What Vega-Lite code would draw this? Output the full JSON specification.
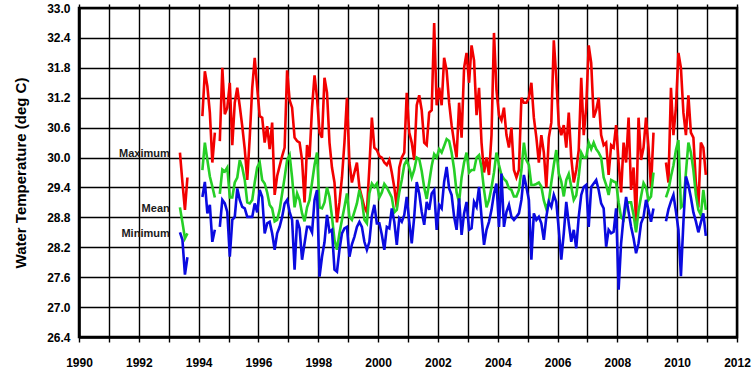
{
  "$schema": "https://vega.github.io/schema/vega-lite/v6.json",
  "width": 658,
  "height": 329,
  "autosize": {"type": "none"},
  "padding": {"left": 79, "top": 8, "right": 18, "bottom": 41},
  "background": "white",
  "config": {
    "view": {"stroke": "#000", "strokeWidth": 2.5},
    "axis": {
      "labelFont": "Liberation Sans", "labelFontWeight": "bold", "labelFontSize": 12, "labelColor": "#000",
      "titleFont": "Liberation Sans", "titleFontWeight": "bold", "titleColor": "#000",
      "gridColor": "#000", "gridOpacity": 1, "gridWidth": 1.4,
      "domainColor": "#000", "domainWidth": 2.5, "tickColor": "#000", "tickWidth": 1.4
    }
  },
  "datasets": {
    "temps": [
      {"year":1993.375,"seg":"a","Maximum":30.1,"Mean":29.0,"Minimum":28.5},
      {"year":1993.458,"seg":"a","Maximum":29.5,"Mean":28.7,"Minimum":28.35},
      {"year":1993.542,"seg":"a","Maximum":28.95,"Mean":28.38,"Minimum":27.65},
      {"year":1993.625,"seg":"a","Maximum":29.6,"Mean":28.48,"Minimum":28.0},
      {"year":1994.125,"seg":"b","Maximum":30.83,"Mean":29.75,"Minimum":29.21},
      {"year":1994.208,"seg":"b","Maximum":31.73,"Mean":30.3,"Minimum":29.51},
      {"year":1994.292,"seg":"b","Maximum":31.43,"Mean":29.95,"Minimum":28.88},
      {"year":1994.375,"seg":"b","Maximum":30.9,"Mean":29.62,"Minimum":29.05},
      {"year":1994.458,"seg":"b","Maximum":29.9,"Mean":29.42,"Minimum":28.31},
      {"year":1994.542,"seg":"b","Maximum":30.5,"Mean":29.2,"Minimum":28.55},
      {"year":1994.708,"seg":"c","Maximum":30.33,"Mean":29.27,"Minimum":28.61},
      {"year":1994.792,"seg":"c","Maximum":31.8,"Mean":29.76,"Minimum":29.15},
      {"year":1994.875,"seg":"c","Maximum":30.87,"Mean":29.72,"Minimum":29.08},
      {"year":1994.958,"seg":"c","Maximum":31.0,"Mean":29.8,"Minimum":28.91},
      {"year":1995.042,"seg":"c","Maximum":31.5,"Mean":29.2,"Minimum":28.01},
      {"year":1995.125,"seg":"c","Maximum":30.25,"Mean":29.2,"Minimum":28.75},
      {"year":1995.208,"seg":"c","Maximum":31.1,"Mean":29.5,"Minimum":28.81},
      {"year":1995.292,"seg":"c","Maximum":31.4,"Mean":29.6,"Minimum":29.38},
      {"year":1995.375,"seg":"c","Maximum":31.03,"Mean":29.95,"Minimum":29.15},
      {"year":1995.458,"seg":"c","Maximum":30.63,"Mean":29.8,"Minimum":29.01},
      {"year":1995.542,"seg":"c","Maximum":30.17,"Mean":29.55,"Minimum":28.98},
      {"year":1995.625,"seg":"c","Maximum":29.55,"Mean":29.1,"Minimum":28.81},
      {"year":1995.708,"seg":"c","Maximum":30.4,"Mean":29.08,"Minimum":28.81},
      {"year":1995.792,"seg":"c","Maximum":31.4,"Mean":29.15,"Minimum":28.81},
      {"year":1995.875,"seg":"c","Maximum":32.0,"Mean":29.5,"Minimum":29.08},
      {"year":1995.958,"seg":"c","Maximum":31.4,"Mean":29.8,"Minimum":28.9},
      {"year":1996.042,"seg":"c","Maximum":30.83,"Mean":29.9,"Minimum":29.35},
      {"year":1996.125,"seg":"c","Maximum":30.8,"Mean":29.55,"Minimum":29.21},
      {"year":1996.208,"seg":"c","Maximum":30.3,"Mean":29.48,"Minimum":28.48},
      {"year":1996.292,"seg":"c","Maximum":30.63,"Mean":29.3,"Minimum":28.68},
      {"year":1996.375,"seg":"c","Maximum":30.17,"Mean":29.05,"Minimum":28.71},
      {"year":1996.458,"seg":"c","Maximum":30.7,"Mean":28.98,"Minimum":28.48},
      {"year":1996.542,"seg":"c","Maximum":29.25,"Mean":28.72,"Minimum":28.15},
      {"year":1996.625,"seg":"c","Maximum":29.63,"Mean":28.75,"Minimum":28.48},
      {"year":1996.708,"seg":"c","Maximum":29.83,"Mean":28.95,"Minimum":28.61},
      {"year":1996.792,"seg":"c","Maximum":30.03,"Mean":29.28,"Minimum":28.81},
      {"year":1996.875,"seg":"c","Maximum":30.2,"Mean":29.6,"Minimum":29.08},
      {"year":1996.958,"seg":"c","Maximum":31.75,"Mean":29.95,"Minimum":29.15},
      {"year":1997.042,"seg":"c","Maximum":31.15,"Mean":30.05,"Minimum":28.91},
      {"year":1997.125,"seg":"c","Maximum":31.0,"Mean":29.6,"Minimum":28.75},
      {"year":1997.208,"seg":"c","Maximum":30.4,"Mean":29.0,"Minimum":27.75},
      {"year":1997.292,"seg":"c","Maximum":30.33,"Mean":29.28,"Minimum":28.75},
      {"year":1997.375,"seg":"c","Maximum":30.3,"Mean":29.15,"Minimum":28.58},
      {"year":1997.458,"seg":"c","Maximum":29.95,"Mean":28.88,"Minimum":27.95},
      {"year":1997.542,"seg":"c","Maximum":29.1,"Mean":28.72,"Minimum":28.28},
      {"year":1997.625,"seg":"c","Maximum":30.25,"Mean":29.0,"Minimum":28.61},
      {"year":1997.708,"seg":"c","Maximum":30.0,"Mean":29.15,"Minimum":28.61},
      {"year":1997.792,"seg":"c","Maximum":31.0,"Mean":29.5,"Minimum":28.5},
      {"year":1997.875,"seg":"c","Maximum":31.65,"Mean":29.85,"Minimum":29.15},
      {"year":1997.958,"seg":"c","Maximum":31.2,"Mean":30.1,"Minimum":29.35},
      {"year":1998.042,"seg":"c","Maximum":30.5,"Mean":29.0,"Minimum":27.61},
      {"year":1998.125,"seg":"c","Maximum":30.4,"Mean":28.98,"Minimum":28.01},
      {"year":1998.208,"seg":"c","Maximum":31.6,"Mean":29.1,"Minimum":28.3},
      {"year":1998.292,"seg":"c","Maximum":31.3,"Mean":29.4,"Minimum":28.85},
      {"year":1998.375,"seg":"c","Maximum":30.3,"Mean":29.21,"Minimum":28.51},
      {"year":1998.458,"seg":"c","Maximum":29.8,"Mean":28.81,"Minimum":28.55},
      {"year":1998.542,"seg":"c","Maximum":29.5,"Mean":28.35,"Minimum":27.75},
      {"year":1998.625,"seg":"c","Maximum":28.7,"Mean":28.15,"Minimum":27.71},
      {"year":1998.708,"seg":"c","Maximum":29.1,"Mean":28.48,"Minimum":28.15},
      {"year":1998.792,"seg":"c","Maximum":29.6,"Mean":28.75,"Minimum":28.48},
      {"year":1998.875,"seg":"c","Maximum":30.3,"Mean":29.01,"Minimum":28.58},
      {"year":1998.958,"seg":"c","Maximum":31.2,"Mean":29.28,"Minimum":28.61},
      {"year":1999.042,"seg":"c","Maximum":29.9,"Mean":28.81,"Minimum":28.01},
      {"year":1999.125,"seg":"c","Maximum":29.5,"Mean":28.75,"Minimum":28.26},
      {"year":1999.208,"seg":"c","Maximum":29.7,"Mean":28.91,"Minimum":28.41},
      {"year":1999.292,"seg":"c","Maximum":29.9,"Mean":29.08,"Minimum":28.61},
      {"year":1999.375,"seg":"c","Maximum":29.4,"Mean":29.35,"Minimum":28.71},
      {"year":1999.458,"seg":"c","Maximum":29.2,"Mean":29.15,"Minimum":28.61},
      {"year":1999.542,"seg":"c","Maximum":29.0,"Mean":28.75,"Minimum":28.31},
      {"year":1999.625,"seg":"c","Maximum":28.9,"Mean":28.68,"Minimum":28.15},
      {"year":1999.708,"seg":"c","Maximum":29.8,"Mean":29.28,"Minimum":28.31},
      {"year":1999.792,"seg":"c","Maximum":30.8,"Mean":29.48,"Minimum":28.83},
      {"year":1999.875,"seg":"c","Maximum":30.2,"Mean":29.41,"Minimum":29.05},
      {"year":1999.958,"seg":"c","Maximum":30.15,"Mean":29.48,"Minimum":28.68},
      {"year":2000.042,"seg":"c","Maximum":30.03,"Mean":29.2,"Minimum":28.68},
      {"year":2000.125,"seg":"c","Maximum":30.0,"Mean":29.3,"Minimum":28.45},
      {"year":2000.208,"seg":"c","Maximum":29.9,"Mean":29.47,"Minimum":28.15},
      {"year":2000.292,"seg":"c","Maximum":29.85,"Mean":29.4,"Minimum":28.61},
      {"year":2000.375,"seg":"c","Maximum":29.95,"Mean":29.3,"Minimum":28.58},
      {"year":2000.458,"seg":"c","Maximum":29.7,"Mean":29.2,"Minimum":28.98},
      {"year":2000.542,"seg":"c","Maximum":29.4,"Mean":28.9,"Minimum":28.71},
      {"year":2000.625,"seg":"c","Maximum":29.0,"Mean":28.95,"Minimum":28.25},
      {"year":2000.708,"seg":"c","Maximum":29.8,"Mean":29.3,"Minimum":28.78},
      {"year":2000.792,"seg":"c","Maximum":30.0,"Mean":29.55,"Minimum":28.71},
      {"year":2000.875,"seg":"c","Maximum":30.1,"Mean":29.85,"Minimum":28.85},
      {"year":2000.958,"seg":"c","Maximum":31.3,"Mean":29.95,"Minimum":29.21},
      {"year":2001.042,"seg":"c","Maximum":30.5,"Mean":29.8,"Minimum":28.71},
      {"year":2001.125,"seg":"c","Maximum":30.3,"Mean":29.6,"Minimum":28.28},
      {"year":2001.208,"seg":"c","Maximum":29.95,"Mean":29.75,"Minimum":28.81},
      {"year":2001.292,"seg":"c","Maximum":31.05,"Mean":30.0,"Minimum":29.51},
      {"year":2001.375,"seg":"c","Maximum":31.25,"Mean":29.97,"Minimum":29.28},
      {"year":2001.458,"seg":"c","Maximum":30.95,"Mean":29.73,"Minimum":28.91},
      {"year":2001.542,"seg":"c","Maximum":30.3,"Mean":29.4,"Minimum":28.65},
      {"year":2001.625,"seg":"c","Maximum":30.25,"Mean":29.17,"Minimum":29.11},
      {"year":2001.708,"seg":"c","Maximum":30.9,"Mean":29.5,"Minimum":28.95},
      {"year":2001.792,"seg":"c","Maximum":30.95,"Mean":29.83,"Minimum":29.28},
      {"year":2001.875,"seg":"c","Maximum":32.7,"Mean":30.07,"Minimum":29.35},
      {"year":2001.958,"seg":"c","Maximum":31.05,"Mean":30.0,"Minimum":28.55},
      {"year":2002.042,"seg":"c","Maximum":31.4,"Mean":30.17,"Minimum":29.05},
      {"year":2002.125,"seg":"c","Maximum":31.05,"Mean":30.1,"Minimum":28.98},
      {"year":2002.208,"seg":"c","Maximum":32.0,"Mean":30.23,"Minimum":29.51},
      {"year":2002.292,"seg":"c","Maximum":31.75,"Mean":30.37,"Minimum":29.81},
      {"year":2002.375,"seg":"c","Maximum":31.1,"Mean":30.33,"Minimum":29.38},
      {"year":2002.458,"seg":"c","Maximum":30.65,"Mean":30.1,"Minimum":29.25},
      {"year":2002.542,"seg":"c","Maximum":30.3,"Mean":29.77,"Minimum":28.81},
      {"year":2002.625,"seg":"c","Maximum":30.0,"Mean":29.3,"Minimum":28.55},
      {"year":2002.708,"seg":"c","Maximum":31.1,"Mean":29.1,"Minimum":29.18},
      {"year":2002.792,"seg":"c","Maximum":30.4,"Mean":29.6,"Minimum":28.45},
      {"year":2002.875,"seg":"c","Maximum":31.8,"Mean":29.9,"Minimum":28.88},
      {"year":2002.958,"seg":"c","Maximum":32.1,"Mean":30.1,"Minimum":29.11},
      {"year":2003.042,"seg":"c","Maximum":31.5,"Mean":29.7,"Minimum":28.55},
      {"year":2003.125,"seg":"c","Maximum":32.25,"Mean":29.75,"Minimum":28.58},
      {"year":2003.208,"seg":"c","Maximum":31.95,"Mean":29.75,"Minimum":29.11},
      {"year":2003.292,"seg":"c","Maximum":30.85,"Mean":30.0,"Minimum":29.01},
      {"year":2003.375,"seg":"c","Maximum":31.4,"Mean":30.05,"Minimum":29.41},
      {"year":2003.458,"seg":"c","Maximum":30.3,"Mean":29.8,"Minimum":28.81},
      {"year":2003.542,"seg":"c","Maximum":29.7,"Mean":29.35,"Minimum":28.25},
      {"year":2003.625,"seg":"c","Maximum":30.0,"Mean":29.0,"Minimum":28.55},
      {"year":2003.708,"seg":"c","Maximum":29.65,"Mean":29.15,"Minimum":28.71},
      {"year":2003.792,"seg":"c","Maximum":30.45,"Mean":29.4,"Minimum":28.95},
      {"year":2003.875,"seg":"c","Maximum":32.5,"Mean":29.7,"Minimum":29.28},
      {"year":2003.958,"seg":"c","Maximum":31.35,"Mean":30.1,"Minimum":29.48},
      {"year":2004.042,"seg":"c","Maximum":30.85,"Mean":29.85,"Minimum":28.61},
      {"year":2004.125,"seg":"c","Maximum":30.75,"Mean":29.65,"Minimum":29.68},
      {"year":2004.208,"seg":"c","Maximum":31.0,"Mean":29.57,"Minimum":28.61},
      {"year":2004.292,"seg":"c","Maximum":30.45,"Mean":29.52,"Minimum":28.91},
      {"year":2004.375,"seg":"c","Maximum":30.2,"Mean":29.38,"Minimum":29.05},
      {"year":2004.458,"seg":"c","Maximum":30.6,"Mean":29.35,"Minimum":28.81},
      {"year":2004.542,"seg":"c","Maximum":29.75,"Mean":29.22,"Minimum":28.75},
      {"year":2004.625,"seg":"c","Maximum":29.6,"Mean":29.22,"Minimum":28.81},
      {"year":2004.708,"seg":"c","Maximum":29.75,"Mean":29.35,"Minimum":28.88},
      {"year":2004.792,"seg":"c","Maximum":31.2,"Mean":29.75,"Minimum":29.15},
      {"year":2004.875,"seg":"c","Maximum":31.1,"Mean":30.3,"Minimum":29.65},
      {"year":2004.958,"seg":"c","Maximum":31.1,"Mean":29.95,"Minimum":29.41},
      {"year":2005.042,"seg":"c","Maximum":31.2,"Mean":29.85,"Minimum":29.15},
      {"year":2005.125,"seg":"c","Maximum":31.5,"Mean":29.45,"Minimum":27.95},
      {"year":2005.208,"seg":"c","Maximum":30.8,"Mean":29.45,"Minimum":28.88},
      {"year":2005.292,"seg":"c","Maximum":30.4,"Mean":29.47,"Minimum":28.75},
      {"year":2005.375,"seg":"c","Maximum":29.9,"Mean":29.5,"Minimum":28.81},
      {"year":2005.458,"seg":"c","Maximum":30.45,"Mean":29.42,"Minimum":28.68},
      {"year":2005.542,"seg":"c","Maximum":30.1,"Mean":29.14,"Minimum":28.35},
      {"year":2005.625,"seg":"c","Maximum":29.4,"Mean":28.97,"Minimum":28.81},
      {"year":2005.708,"seg":"c","Maximum":30.4,"Mean":29.12,"Minimum":29.11},
      {"year":2005.792,"seg":"c","Maximum":30.7,"Mean":29.5,"Minimum":29.01},
      {"year":2005.875,"seg":"c","Maximum":32.35,"Mean":29.85,"Minimum":29.25},
      {"year":2005.958,"seg":"c","Maximum":31.6,"Mean":30.15,"Minimum":29.11},
      {"year":2006.042,"seg":"c","Maximum":30.65,"Mean":29.68,"Minimum":28.55},
      {"year":2006.125,"seg":"c","Maximum":30.45,"Mean":29.52,"Minimum":27.95},
      {"year":2006.208,"seg":"c","Maximum":30.65,"Mean":29.22,"Minimum":28.48},
      {"year":2006.292,"seg":"c","Maximum":30.2,"Mean":29.55,"Minimum":29.11},
      {"year":2006.375,"seg":"c","Maximum":30.9,"Mean":29.67,"Minimum":28.68},
      {"year":2006.458,"seg":"c","Maximum":30.0,"Mean":29.42,"Minimum":28.31},
      {"year":2006.542,"seg":"c","Maximum":29.5,"Mean":29.15,"Minimum":28.55},
      {"year":2006.625,"seg":"c","Maximum":29.75,"Mean":29.24,"Minimum":28.18},
      {"year":2006.708,"seg":"c","Maximum":30.15,"Mean":29.62,"Minimum":28.81},
      {"year":2006.792,"seg":"c","Maximum":31.6,"Mean":30.1,"Minimum":29.25},
      {"year":2006.875,"seg":"c","Maximum":30.45,"Mean":30.0,"Minimum":29.41},
      {"year":2006.958,"seg":"c","Maximum":31.0,"Mean":30.0,"Minimum":29.45},
      {"year":2007.042,"seg":"c","Maximum":32.25,"Mean":30.3,"Minimum":28.61},
      {"year":2007.125,"seg":"c","Maximum":31.9,"Mean":30.17,"Minimum":29.41},
      {"year":2007.208,"seg":"c","Maximum":30.8,"Mean":30.3,"Minimum":29.48},
      {"year":2007.292,"seg":"c","Maximum":30.95,"Mean":30.17,"Minimum":29.55},
      {"year":2007.375,"seg":"c","Maximum":31.2,"Mean":30.1,"Minimum":29.35},
      {"year":2007.458,"seg":"c","Maximum":30.45,"Mean":30.0,"Minimum":29.08},
      {"year":2007.542,"seg":"c","Maximum":30.25,"Mean":29.6,"Minimum":28.98},
      {"year":2007.625,"seg":"c","Maximum":30.3,"Mean":29.45,"Minimum":28.21},
      {"year":2007.708,"seg":"c","Maximum":29.65,"Mean":29.25,"Minimum":28.55},
      {"year":2007.792,"seg":"c","Maximum":30.25,"Mean":29.55,"Minimum":28.48},
      {"year":2007.875,"seg":"c","Maximum":30.2,"Mean":29.52,"Minimum":28.51},
      {"year":2007.958,"seg":"c","Maximum":30.65,"Mean":29.5,"Minimum":28.98},
      {"year":2008.042,"seg":"c","Maximum":29.9,"Mean":29.1,"Minimum":27.35},
      {"year":2008.125,"seg":"c","Maximum":29.3,"Mean":28.8,"Minimum":28.28},
      {"year":2008.208,"seg":"c","Maximum":30.3,"Mean":28.75,"Minimum":28.81},
      {"year":2008.292,"seg":"c","Maximum":29.9,"Mean":29.05,"Minimum":29.21},
      {"year":2008.375,"seg":"c","Maximum":30.8,"Mean":29.1,"Minimum":28.91},
      {"year":2008.458,"seg":"c","Maximum":29.35,"Mean":29.1,"Minimum":28.61},
      {"year":2008.542,"seg":"c","Maximum":29.8,"Mean":28.85,"Minimum":28.38},
      {"year":2008.625,"seg":"c","Maximum":28.7,"Mean":28.5,"Minimum":28.08},
      {"year":2008.708,"seg":"c","Maximum":30.8,"Mean":28.93,"Minimum":28.28},
      {"year":2008.792,"seg":"c","Maximum":29.95,"Mean":29.22,"Minimum":28.68},
      {"year":2008.875,"seg":"c","Maximum":30.2,"Mean":29.49,"Minimum":28.81},
      {"year":2008.958,"seg":"c","Maximum":30.8,"Mean":29.4,"Minimum":29.15},
      {"year":2009.042,"seg":"c","Maximum":30.2,"Mean":29.15,"Minimum":28.95},
      {"year":2009.125,"seg":"c","Maximum":29.4,"Mean":29.22,"Minimum":28.71},
      {"year":2009.208,"seg":"c","Maximum":30.5,"Mean":29.7,"Minimum":28.98},
      {"year":2009.625,"seg":"d","Maximum":29.9,"Mean":29.2,"Minimum":28.72},
      {"year":2009.708,"seg":"d","Maximum":29.5,"Mean":29.35,"Minimum":28.96},
      {"year":2009.792,"seg":"d","Maximum":31.4,"Mean":29.62,"Minimum":29.12},
      {"year":2009.875,"seg":"d","Maximum":30.45,"Mean":29.84,"Minimum":29.25},
      {"year":2009.958,"seg":"d","Maximum":31.0,"Mean":30.15,"Minimum":28.92},
      {"year":2010.042,"seg":"d","Maximum":32.1,"Mean":30.35,"Minimum":28.55},
      {"year":2010.125,"seg":"d","Maximum":31.8,"Mean":29.0,"Minimum":27.62},
      {"year":2010.208,"seg":"d","Maximum":30.9,"Mean":29.05,"Minimum":28.7},
      {"year":2010.292,"seg":"d","Maximum":30.45,"Mean":29.7,"Minimum":29.62},
      {"year":2010.375,"seg":"d","Maximum":31.25,"Mean":30.3,"Minimum":29.45},
      {"year":2010.458,"seg":"d","Maximum":30.5,"Mean":30.1,"Minimum":29.2},
      {"year":2010.542,"seg":"d","Maximum":30.4,"Mean":29.75,"Minimum":28.9},
      {"year":2010.625,"seg":"d","Maximum":29.5,"Mean":29.25,"Minimum":28.72},
      {"year":2010.708,"seg":"d","Maximum":29.0,"Mean":28.95,"Minimum":28.5},
      {"year":2010.792,"seg":"d","Maximum":30.3,"Mean":28.85,"Minimum":28.7},
      {"year":2010.875,"seg":"d","Maximum":30.2,"Mean":29.35,"Minimum":28.88},
      {"year":2010.958,"seg":"d","Maximum":29.65,"Mean":28.95,"Minimum":28.43}
    ],
    "labels": [
      {"year":1993.0,"value":30.07,"label":"Maximum"},
      {"year":1993.0,"value":28.97,"label":"Mean"},
      {"year":1993.0,"value":28.47,"label":"Minimum"}
    ]
  },
  "layer": [
    {
      "data": {"name": "temps"},
      "transform": [{"fold": ["Maximum", "Mean", "Minimum"], "as": ["series", "value"]}],
      "mark": {"type": "line", "strokeWidth": 2.6, "clip": true},
      "encoding": {
        "x": {"field": "year", "type": "quantitative",
              "scale": {"domain": [1990, 2012], "nice": false, "zero": false},
              "axis": {"orient": "bottom", "title": null,
                       "values": [1990,1991,1992,1993,1994,1995,1996,1997,1998,1999,2000,2001,2002,2003,2004,2005,2006,2007,2008,2009,2010,2011,2012],
                       "format": "d", "labelExpr": "datum.value % 2 === 0 ? datum.label : ''",
                       "grid": true, "tickSize": 5, "labelPadding": 15, "labelOverlap": false, "labelFlush": false}},
        "y": {"field": "value", "type": "quantitative", "title": "Water Temperature (deg C)",
              "scale": {"domain": [26.4, 33.0], "nice": false, "zero": false},
              "axis": {"values": [26.4,27.0,27.6,28.2,28.8,29.4,30.0,30.6,31.2,31.8,32.4,33.0],
                       "format": ".1f", "grid": true, "tickSize": 0, "labelPadding": 9,
                       "titleFontSize": 15, "titlePadding": 18, "labelOverlap": false, "labelFlush": false}},
        "color": {"field": "series", "type": "nominal", "legend": null,
                  "scale": {"domain": ["Maximum", "Mean", "Minimum"], "range": ["#f20000", "#26cf26", "#0a0ae0"]}},
        "detail": {"field": "seg", "type": "nominal"}
      }
    },
    {
      "data": {"name": "labels"},
      "mark": {"type": "text", "align": "right", "baseline": "middle", "font": "Liberation Sans", "fontWeight": "bold", "fontSize": 11, "color": "#1a1a1a", "dx": 1},
      "encoding": {
        "x": {"field": "year", "type": "quantitative",
              "axis": {"orient": "top", "title": null, "labels": false, "grid": false, "domain": false, "tickSize": 4,
                       "values": [1990,1991,1992,1993,1994,1995,1996,1997,1998,1999,2000,2001,2002,2003,2004,2005,2006,2007,2008,2009,2010,2011,2012]}},
        "y": {"field": "value", "type": "quantitative", "title": "Water Temperature (deg C)",
              "axis": {"values": [26.4,27.0,27.6,28.2,28.8,29.4,30.0,30.6,31.2,31.8,32.4,33.0],
                       "format": ".1f", "grid": true, "tickSize": 0, "labelPadding": 9,
                       "titleFontSize": 15, "titlePadding": 18, "labelOverlap": false, "labelFlush": false}},
        "text": {"field": "label"}
      }
    }
  ],
  "resolve": {"axis": {"x": "independent"}}
}
